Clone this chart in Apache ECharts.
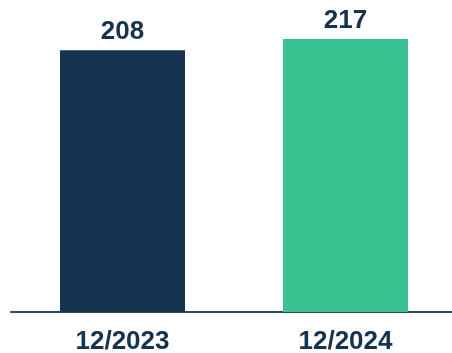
<!DOCTYPE html>
<html>
<head>
<meta charset="utf-8">
<style>
  html, body { margin: 0; padding: 0; background: #ffffff; }
  #chart { width: 452px; height: 353px; }
</style>
<script src="https://cdn.jsdelivr.net/npm/echarts@6/dist/echarts.min.js"></script>
</head>
<body>
<div id="chart"></div>
<script>
// Year-end figures
const categories = ['12/2023', '12/2024'];
const values = [208, 217];
const barColors = ['#15324f', '#38c391'];

const chart = echarts.init(document.getElementById('chart'), null, { renderer: 'canvas' });

chart.setOption({
  animation: false,
  grid: {
    left: 11, width: 446, top: 10, bottom: 41,
    containLabel: false,
    outerBoundsMode: 'none'
  },
  xAxis: {
    type: 'category',
    data: categories,
    axisLine: { show: true, lineStyle: { color: '#2c4866', width: 2 } },
    axisTick: { show: false },
    axisLabel: {
      color: '#15324f',
      fontFamily: 'Liberation Sans, Arial, sans-serif',
      fontWeight: 'bold',
      fontSize: 26,
      margin: 17
    }
  },
  yAxis: {
    type: 'value',
    min: 0,
    max: 240,
    show: false,
    splitLine: { show: false }
  },
  series: [{
    type: 'bar',
    barWidth: 125,
    data: values.map((v, i) => ({ value: v, itemStyle: { color: barColors[i] } })),
    label: {
      show: true,
      position: 'top',
      distance: 5,
      color: '#15324f',
      fontFamily: 'Liberation Sans, Arial, sans-serif',
      fontWeight: 'bold',
      fontSize: 26
    }
  }]
});
</script>
</body>
</html>
